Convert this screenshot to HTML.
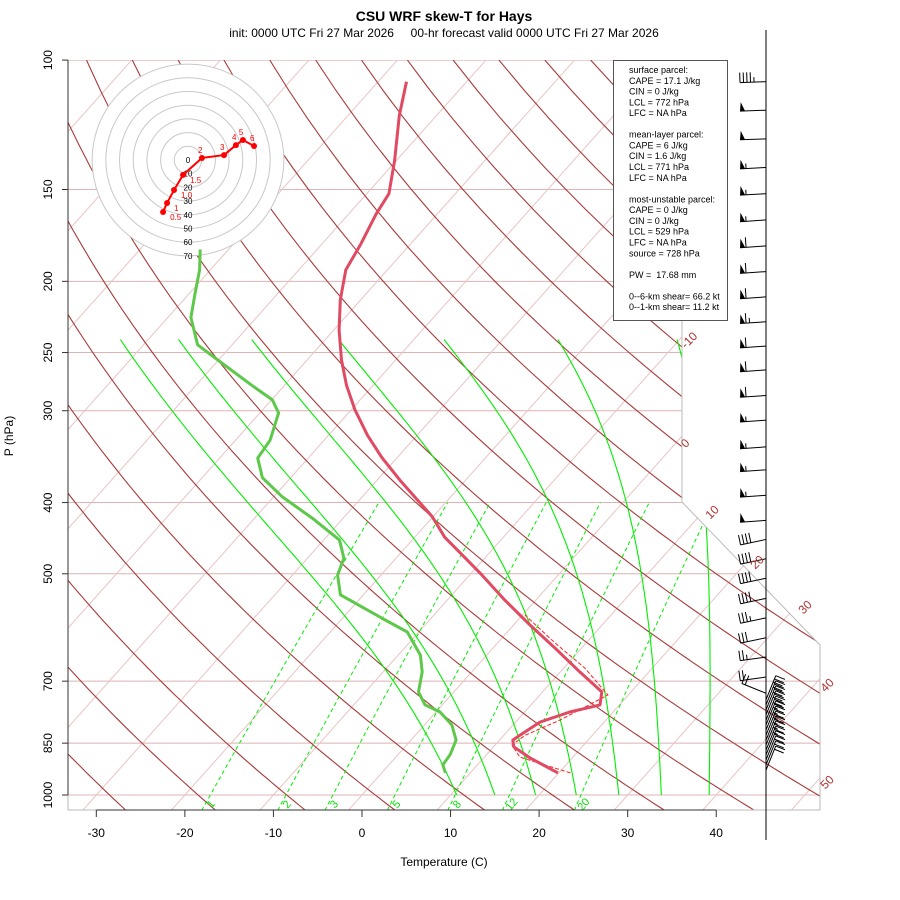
<!DOCTYPE html>
<html><head><meta charset="utf-8"><title>CSU WRF skew-T for Hays</title>
<style>
html,body{margin:0;padding:0;background:#fff;}
svg{display:block;font-family:"Liberation Sans",sans-serif;}
text{white-space:pre;}
</style></head>
<body>
<svg id="chart" width="900" height="900" viewBox="0 0 900 900" xmlns="http://www.w3.org/2000/svg" xml:space="preserve">
<defs><clipPath id="plotclip"><polygon points="68,60 682,60 682,502 820,645 820,810 68,810"/></clipPath></defs>
<rect width="900" height="900" fill="#fff"/>
<text x="444" y="21" text-anchor="middle" font-size="14" font-weight="bold">CSU WRF skew-T for Hays</text>
<text x="444" y="37" text-anchor="middle" font-size="12">init: 0000 UTC Fri 27 Mar 2026     00-hr forecast valid 0000 UTC Fri 27 Mar 2026</text>
<g id="bg" clip-path="url(#plotclip)"></g>
<g id="frame"></g>
<g id="hodo"></g>
<g id="profiles" clip-path="url(#plotclip)"></g>
<g id="barbs"></g>
<g id="axes"></g>
<g>
<rect x="613.5" y="60.5" width="114" height="260" fill="#fff" stroke="#555" stroke-width="1"/>
<text id="infotext" font-size="9" fill="#000"></text>
</g>
<text x="13" y="436" font-size="12" text-anchor="middle" transform="rotate(-90 13 436)">P (hPa)</text>
<text x="444" y="866" font-size="12" text-anchor="middle">Temperature (C)</text>
</svg>
<script>
// ---- data ----
const tempP = [933,890,860,842,829,796,771,754,724,680,631,587,543,502,471,446,418,397,373,347,324,299,277,256,233,212,193,178,162,152,137,119,107];
const tempT = [19.9,15.2,12.3,11.5,11.8,12.75,15.1,17.8,16.7,12.2,7.0,1.85,-3.5,-8.6,-12.9,-16.6,-20.1,-23.4,-27.4,-31.8,-35.6,-39.6,-43.0,-46.1,-49.4,-52.3,-54.7,-55.6,-56.9,-57.5,-60.2,-64.2,-66.8];
const dewP = [933,910,882,842,803,771,754,724,680,645,600,578,555,534,502,476,450,420,393,370,348,329,302,290,277,262,244,224,209,193,181];
const dewT = [7.2,6.1,5.9,5.1,3.1,0.45,-1.95,-4.0,-5.6,-7.5,-11.3,-15.0,-18.9,-22.6,-24.9,-25.9,-28.2,-33.5,-39.0,-43.2,-45.7,-46.1,-47.9,-49.9,-53.7,-58.2,-63.9,-67.4,-69.2,-71.2,-73.2];
const parcelP = [933,888,855,829,791,731,672,621,569];
const parcelT = [21.3,14.0,11.9,12.4,14.8,17.7,12.4,6.5,0.28];
const isoT = [-100,-90,-80,-70,-60,-50,-40,-30,-20,-10,0,10,20,30,40,50];
const dryTheta = [-28.5,-18.5,-8.5,1.5,11.5,21.5,31.5,41.5,51.5,61.5,71.5,81.5,91.5,101.5,111.5,121.5,131.5,141.5,151.5,161.5,171.5,181.5,191.5];
const moistT0 = [10.7,15.0,19.6,24.2,29.0,33.8,39.2];
const mixW = [1,2,3,5,8,12,20];
const pLevels = [100,150,200,250,300,400,500,700,850,1000];
const xTicks = [-30,-20,-10,0,10,20,30,40];
const isoLabels = ["-10","0","10","20","30","40","50"];
const hodoU = [-18.2,-15.3,-10.2,-3.6,10.2,26.3,35.0,40.1,48.2];
const hodoV = [-38.0,-31.4,-21.9,-10.9,1.5,3.6,10.9,14.6,10.2];
const hodoLab = ["0.5","1","1.0","1.5","2","3","4","5","6"];
const hodoRings = [10,20,30,40,50,60,70];
const barbP = [107,117,128,140,152,165,179,194,210,227,245,264,286,309,336,361,391,423,449,477,507,540,574,611,649,691,727,742,754,766,778,791,803,816,829,842,855,869,882,896,910,925];
const barbSpd = [45,50,50,55,55,55,60,60,60,65,60,60,60,55,55,55,55,50,40,40,40,40,35,30,25,20,20,30,30,30,30,30,25,25,25,25,25,25,20,20,20,20];
const barbDir = [268,268,268,267,267,266,266,266,266,266,266,266,266,266,266,266,266,266,258,258,258,258,258,258,262,262,292,22,22,22,22,22,22,22,22,22,22,22,22,22,22,22];
const infoLines = ["surface parcel:","CAPE = 17.1 J/kg","CIN = 0 J/kg","LCL = 772 hPa","LFC = NA hPa","","mean-layer parcel:","CAPE = 6 J/kg","CIN = 1.6 J/kg","LCL = 771 hPa","LFC = NA hPa","","most-unstable parcel:","CAPE = 0 J/kg","CIN = 0 J/kg","LCL = 529 hPa","LFC = NA hPa","source = 728 hPa","","PW =  17.68 mm","","0--6-km shear= 66.2 kt","0--1-km shear= 11.2 kt"];

// ---- axis functions ----
const X0=362, SX=16.40, Y0=795, SY=16.68;
function skY(p){return 132.182-44.061*Math.log10(p);}
function px(T,p){return X0+SX*(0.54*T+0.90692*skY(p));}
function py(p){return Y0-SY*skY(p);}
const NS="http://www.w3.org/2000/svg";
function mk(tag,attrs,parent){const e=document.createElementNS(NS,tag);for(const k in attrs)e.setAttribute(k,attrs[k]);parent.appendChild(e);return e;}
function pathD(Ts,Ps){return Ts.map((T,i)=>(i?"L":"M")+px(T,Ps[i]).toFixed(1)+","+py(Ps[i]).toFixed(1)).join("");}
const bg=document.getElementById("bg");

pLevels.forEach(p=>{const l=mk("line",{x1:68,x2:820,y1:py(p),y2:py(p),stroke:"#dcb4b4","stroke-width":1},bg);

});
isoT.forEach(T=>{const l=mk("line",{x1:px(T,1050),y1:py(1050),x2:px(T,100),y2:py(100),stroke:"#e8c4c4","stroke-width":1},bg);

});
dryTheta.forEach(th=>{const Ps=[],Ts=[];for(let p=1050;p>=100;p-=10){Ps.push(p);Ts.push((th+273.15)*Math.pow(p/1000,0.286)-273.15);}
const l=mk("path",{d:pathD(Ts,Ps),fill:"none",stroke:"#a83a3a","stroke-width":1.1},bg);

});
mixW.forEach(w=>{const Ps=[],Ts=[];for(let p=1050;p>=400;p-=10){const e=w*p/(622+w);const g=Math.log(e/6.112);Ps.push(p);Ts.push(243.5*g/(17.67-g));}
const l=mk("path",{d:pathD(Ts,Ps),fill:"none",stroke:"#00ee00","stroke-width":1,"stroke-dasharray":"4,3"},bg);


const t=mk("text",{x:px(Ts[0],1050)+12,y:py(1050)-4,fill:"#00dd00","font-size":11,"text-anchor":"middle",transform:"rotate(-50 "+(px(Ts[0],1050)+12)+" "+(py(1050)-4)+")"},document.getElementById("axes"));
t.textContent=w;

});
moistT0.forEach(T0=>{const Ps=[],Ts=[];let T=T0+273.15;for(let p=1000;p>=240;p-=5){Ps.push(p);Ts.push(T-273.15);
const es=6.112*Math.exp(17.67*(T-273.15)/(T-29.65));const rs=0.622*es/(p-es);const L=2.501e6*0.88;
const dTdp=(287*T+L*rs)/(p*(1004+L*L*rs*0.622/(287*T*T)));T-=dTdp*5;}
const l=mk("path",{d:pathD(Ts,Ps),fill:"none",stroke:"#00ee00","stroke-width":1.1},bg);

});

const fr=document.getElementById("frame");
mk("polyline",{points:"682,60 682,502 820,645 820,810 68,810 68,60",fill:"none",stroke:"#bbb","stroke-width":1},fr);
const axes=document.getElementById("axes");
mk("line",{x1:68,x2:68,y1:60,y2:795,stroke:"#333","stroke-width":1},axes);
mk("line",{x1:px(-30,1000),x2:px(40,1000),y1:810,y2:810,stroke:"#333","stroke-width":1},axes);
pLevels.forEach(p=>{mk("line",{x1:62,x2:68,y1:py(p),y2:py(p),stroke:"#333"},axes);
const t=mk("text",{x:52,y:py(p),"font-size":12,"text-anchor":"middle",transform:"rotate(-90 52 "+py(p)+")"},axes);t.textContent=p;

});
xTicks.forEach(T=>{const x=px(T,1000);mk("line",{x1:x,x2:x,y1:810,y2:817,stroke:"#333"},axes);
const t=mk("text",{x:x,y:837,"font-size":12,"text-anchor":"middle"},axes);t.textContent=T;

});
const isoPos=[[692,343],[688,446],[715,515],[760,565],[808,610],[830,688],[830,785]];
isoLabels.forEach((s,i)=>{const t=mk("text",{x:isoPos[i][0],y:isoPos[i][1],"font-size":12,fill:"#b03030","text-anchor":"middle",transform:"rotate(-45 "+isoPos[i][0]+" "+isoPos[i][1]+")"},axes);t.textContent=s;

});

const hg=document.getElementById("hodo");const HX=188,HY=160,HS=1.37;
mk("circle",{cx:HX,cy:HY,r:96,fill:"#fff",stroke:"none"},hg);
hodoRings.forEach(r=>{mk("circle",{cx:HX,cy:HY,r:r*HS,fill:"none",stroke:"#c8c8c8","stroke-width":1},hg);});
[0].concat(hodoRings).forEach(r=>{const t=mk("text",{x:HX,y:HY+r*HS+3,"font-size":8,"text-anchor":"middle",fill:"#000"},hg);t.textContent=r;

});
const hpts=hodoU.map((u,i)=>[HX+u*HS,HY-hodoV[i]*HS]);
const hl=mk("polyline",{points:hpts.map(p=>p.join(",")).join(" "),fill:"none",stroke:"#ff0000","stroke-width":2},hg);


hpts.forEach((p,i)=>{mk("circle",{cx:p[0],cy:p[1],r:3,fill:"#ff0000"},hg);
const t=mk("text",{x:p[0]+(i<4?7:-4),y:p[1]+(i<4?8:-5),"font-size":8,fill:"#ff0000"},hg);t.textContent=hodoLab[i];

});

const pr=document.getElementById("profiles");
const dl=mk("path",{d:pathD(dewT,dewP),fill:"none",stroke:"#5ec84a","stroke-width":3,"stroke-linejoin":"round"},pr);


const pl=mk("path",{d:pathD(parcelT,parcelP),fill:"none",stroke:"#ff2020","stroke-width":1,"stroke-dasharray":"4,2"},pr);


const tl=mk("path",{d:pathD(tempT,tempP),fill:"none",stroke:"#e04a62","stroke-width":3,"stroke-linejoin":"round"},pr);



const bgp=document.getElementById("barbs");const BX=766;
mk("line",{x1:BX,x2:BX,y1:30,y2:840,stroke:"#000","stroke-width":1},bgp);
barbP.forEach((p,i)=>{const y=py(p);const th=barbDir[i]*Math.PI/180;const dx=Math.sin(th),dy=-Math.cos(th);const L=26;
const ex=BX+dx*L,ey=y+dy*L;const nx=-dy,ny=dx;const g=mk("g",{},bgp);


mk("line",{x1:BX,y1:y,x2:ex,y2:ey,stroke:"#000","stroke-width":1},g);
let s=barbSpd[i];let pos=0;
while(s>=50){const ax=ex-dx*pos,ay=ey-dy*pos;mk("polygon",{points:[ax,ay,ax-dx*5,ay-dy*5,ax-dx*1+nx*9,ay-dy*1+ny*9].join(","),fill:"#000"},g);pos+=6;s-=50;}
while(s>=10){const ax=ex-dx*pos,ay=ey-dy*pos;mk("line",{x1:ax,y1:ay,x2:ax+nx*10,y2:ay+ny*10,stroke:"#000","stroke-width":1},g);pos+=3.5;s-=10;}
if(s>=5){if(pos===0)pos=3.5;const ax=ex-dx*pos,ay=ey-dy*pos;mk("line",{x1:ax,y1:ay,x2:ax+nx*5,y2:ay+ny*5,stroke:"#000","stroke-width":1},g);}
});

const it=document.getElementById("infotext");
infoLines.forEach((s,i)=>{const t=mk("tspan",{x:629,y:73+i*10.78},it);t.textContent=s;});
</script>
</body></html>
